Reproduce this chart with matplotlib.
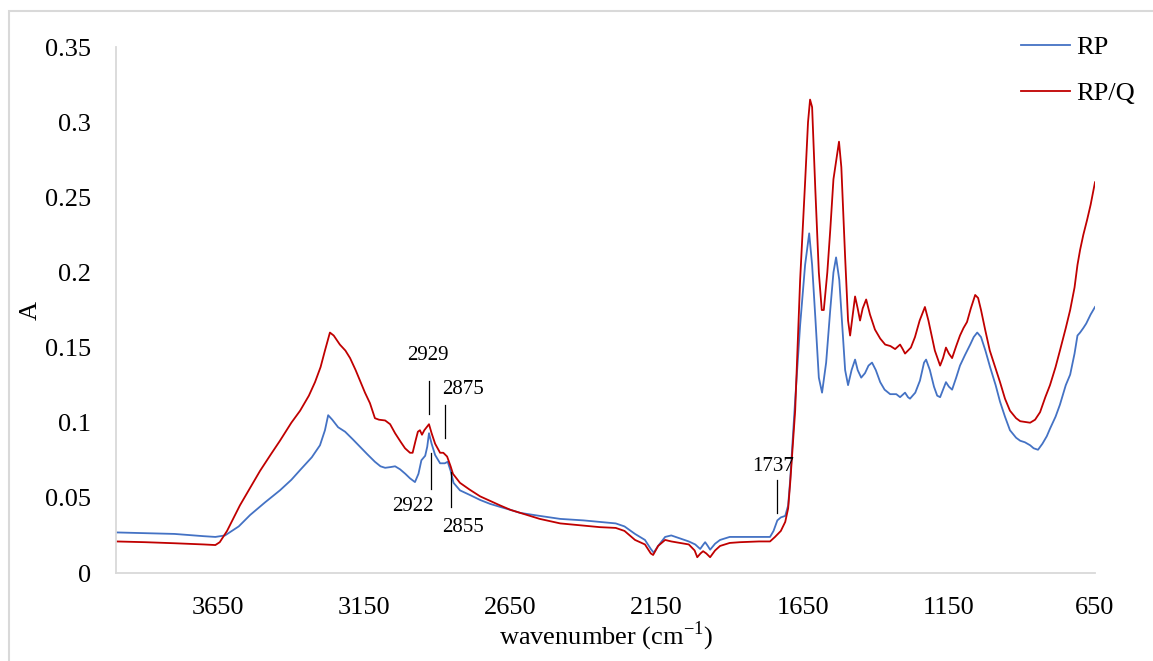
import matplotlib
matplotlib.use("Agg")
import matplotlib.pyplot as plt
from matplotlib.patches import Rectangle

plt.rcParams['font.family'] = ['Liberation Serif', 'DejaVu Serif']
plt.rcParams['mathtext.fontset'] = 'custom'
plt.rcParams['mathtext.rm'] = 'Liberation Serif'

# ---- data ----
wn_rp = [4000, 3900, 3800, 3700, 3660, 3627, 3580, 3541, 3490, 3439, 3400, 3370, 3330, 3302, 3285, 3274,
         3260, 3240, 3216, 3190, 3165, 3140, 3114, 3095, 3079, 3060, 3045, 3028, 3010, 2994, 2977, 2965,
         2955, 2942, 2935, 2929, 2920, 2908, 2891, 2875, 2865, 2855, 2845, 2823, 2790, 2754, 2720, 2686,
         2650, 2617, 2550, 2480, 2400, 2344, 2290, 2260, 2224, 2190, 2170, 2160, 2145, 2121, 2100, 2070,
         2040, 2018, 2001, 1990, 1984, 1975, 1967, 1950, 1933, 1900, 1865, 1800, 1762, 1750, 1737, 1725,
         1710, 1700, 1693, 1676, 1659, 1642, 1628, 1618, 1607, 1595, 1584, 1570, 1556, 1545, 1536, 1525,
         1515, 1505, 1495, 1483, 1471, 1462, 1450, 1437, 1425, 1413, 1400, 1385, 1370, 1351, 1330, 1317,
         1300, 1290, 1283, 1265, 1249, 1235, 1228, 1215, 1201, 1190, 1180, 1170, 1160, 1150, 1139, 1125,
         1112, 1095, 1077, 1065, 1053, 1040, 1025, 1009, 990, 975, 958, 941, 920, 906, 890, 872,
         860, 845, 830, 815, 804, 785, 770, 750, 735, 720, 710, 701, 690, 680, 665, 650]
a_rp = [0.027, 0.0265, 0.026, 0.0245, 0.024, 0.025, 0.031, 0.0386, 0.047, 0.055, 0.062, 0.0685, 0.077, 0.085, 0.095, 0.105,
        0.102, 0.097, 0.094, 0.089, 0.084, 0.079, 0.074, 0.071, 0.070, 0.0705, 0.071, 0.069, 0.066, 0.063, 0.0605, 0.066,
        0.075, 0.078, 0.084, 0.093, 0.086, 0.0785, 0.073, 0.073, 0.074, 0.068, 0.060, 0.055, 0.052, 0.0486, 0.046, 0.044,
        0.042, 0.040, 0.038, 0.036, 0.035, 0.034, 0.033, 0.031, 0.026, 0.022, 0.016, 0.0135, 0.018, 0.024, 0.025, 0.023,
        0.021, 0.019, 0.016, 0.019, 0.0205, 0.018, 0.0155, 0.0195, 0.022, 0.024, 0.024, 0.024, 0.024, 0.028, 0.035, 0.037,
        0.038, 0.045, 0.062, 0.115, 0.165, 0.205, 0.226, 0.205, 0.17, 0.13, 0.12, 0.14, 0.175, 0.2, 0.21, 0.195,
        0.165, 0.135, 0.125, 0.135, 0.142, 0.135, 0.130, 0.133, 0.138, 0.140, 0.135, 0.127, 0.122, 0.119, 0.119, 0.117,
        0.12, 0.117, 0.116, 0.120, 0.128, 0.14, 0.142, 0.135, 0.124, 0.118, 0.117, 0.122, 0.127, 0.124, 0.122, 0.13,
        0.138, 0.145, 0.152, 0.157, 0.16, 0.157, 0.148, 0.137, 0.125, 0.114, 0.104, 0.095, 0.09, 0.088, 0.087, 0.085,
        0.083, 0.082, 0.086, 0.091, 0.096, 0.104, 0.112, 0.125, 0.132, 0.146, 0.158, 0.160, 0.163, 0.166, 0.172, 0.177]

wn_rpq = [4000, 3900, 3800, 3700, 3660, 3645, 3620, 3576, 3540, 3507, 3470, 3439, 3400, 3370, 3340, 3319,
          3300, 3285, 3268, 3255, 3234, 3215, 3199, 3180, 3165, 3148, 3131, 3114, 3100, 3079, 3062, 3045,
          3025, 3011, 2994, 2985, 2975, 2967, 2960, 2953, 2945, 2933, 2929, 2920, 2908, 2891, 2880, 2867,
          2855, 2847, 2823, 2790, 2754, 2720, 2686, 2650, 2617, 2550, 2480, 2400, 2344, 2290, 2260, 2224,
          2190, 2170, 2162, 2145, 2121, 2100, 2070, 2040, 2020, 2011, 2000, 1991, 1980, 1967, 1950, 1933,
          1900, 1865, 1800, 1762, 1745, 1725, 1710, 1700, 1693, 1676, 1659, 1642, 1632, 1625, 1618, 1607,
          1595, 1585, 1578, 1566, 1556, 1545, 1535, 1526, 1518, 1505, 1495, 1488, 1480, 1471, 1462, 1454,
          1445, 1433, 1420, 1403, 1385, 1368, 1350, 1334, 1317, 1308, 1300, 1280, 1266, 1250, 1232, 1220,
          1198, 1180, 1170, 1160, 1150, 1139, 1125, 1112, 1100, 1088, 1075, 1060, 1050, 1040, 1026, 1010,
          990, 975, 958, 941, 920, 906, 872, 855, 838, 820, 804, 785, 770, 750, 735, 720,
          710, 701, 690, 677, 665, 650]
a_rpq = [0.021, 0.0205, 0.0198, 0.019, 0.0186, 0.0205, 0.028, 0.045, 0.057, 0.068, 0.079, 0.088, 0.100, 0.108, 0.118, 0.127,
         0.137, 0.148, 0.16, 0.158, 0.152, 0.148, 0.143, 0.135, 0.128, 0.120, 0.113, 0.103, 0.102, 0.1015, 0.099, 0.093,
         0.087, 0.083, 0.080, 0.080, 0.088, 0.094, 0.095, 0.092, 0.095, 0.098, 0.099, 0.093, 0.086, 0.080, 0.080, 0.0775,
         0.071, 0.066, 0.060, 0.0555, 0.051, 0.048, 0.045, 0.042, 0.040, 0.036, 0.033, 0.0315, 0.0305, 0.030, 0.028, 0.022,
         0.019, 0.013, 0.012, 0.018, 0.022, 0.021, 0.020, 0.019, 0.015, 0.0105, 0.013, 0.0145, 0.013, 0.0105, 0.015, 0.018,
         0.020, 0.0205, 0.021, 0.021, 0.024, 0.028, 0.034, 0.043, 0.060, 0.108, 0.195, 0.26, 0.30, 0.315, 0.31, 0.255,
         0.20, 0.175, 0.175, 0.20, 0.228, 0.262, 0.275, 0.287, 0.27, 0.21, 0.168, 0.158, 0.17, 0.184, 0.176, 0.168,
         0.176, 0.182, 0.172, 0.162, 0.156, 0.152, 0.151, 0.149, 0.152, 0.149, 0.146, 0.150, 0.157, 0.168, 0.177, 0.168,
         0.148, 0.138, 0.143, 0.150, 0.146, 0.143, 0.151, 0.158, 0.163, 0.167, 0.176, 0.185, 0.183, 0.175, 0.162, 0.148,
         0.136, 0.127, 0.116, 0.108, 0.103, 0.101, 0.100, 0.102, 0.107, 0.117, 0.125, 0.137, 0.148, 0.163, 0.175, 0.19,
         0.205, 0.215, 0.225, 0.235, 0.245, 0.26]

series_names = ["RP", "RP/Q"]
x_ticks = [3650, 3150, 2650, 2150, 1650, 1150, 650]
y_ticks = [0, 0.05, 0.1, 0.15, 0.2, 0.25, 0.3, 0.35]
y_tick_labels = ["0", "0.05", "0.1", "0.15", "0.2", "0.25", "0.3", "0.35"]

# annotations: label, wavenumber of marker line, line (y0, y1), text position (x, y)
annot_labels = ["2929", "2922", "2875", "2855", "1737"]
annot_wn = [2929, 2922, 2875, 2855, 1737]
annot_line_y = [(0.106, 0.128), (0.056, 0.080), (0.090, 0.112), (0.044, 0.067), (0.040, 0.062)]
annot_text_xy = [(2932, 0.145), (2985, 0.044), (2812, 0.122), (2812, 0.030), (1750, 0.071)]

# ---- figure ----
fig = plt.figure(figsize=(11.53, 6.61), dpi=100)
ax = fig.add_axes([116 / 1153, 1 - 573 / 661, (1095 - 116) / 1153, (573 - 47) / 661])

ax.plot(wn_rp, a_rp, color="#4472C4", lw=1.3, label=series_names[0])
ax.plot(wn_rpq, a_rpq, color="#C00000", lw=1.3, label=series_names[1])

ax.set_xlim(4000, 650)
ax.set_ylim(0, 0.35)
ax.set_xticks(x_ticks)
ax.set_xticklabels([str(t) for t in x_ticks])
ax.set_yticks(y_ticks)
ax.set_yticklabels(y_tick_labels)
ax.tick_params(axis="both", length=0, labelsize=19, colors="black")
ax.tick_params(axis="x", pad=17)
ax.tick_params(axis="y", pad=18)

for s in ["top", "right"]:
    ax.spines[s].set_visible(False)
for s in ["left", "bottom"]:
    ax.spines[s].set_color("#d9d9d9")
    ax.spines[s].set_linewidth(1.3)

ax.set_xlabel(r"wavenumber (cm$^{\mathregular{-1}}$)", fontsize=19, va="center")
ax.xaxis.set_label_coords((606 - 116) / 979, -(636 - 573) / 526)
ax.set_ylabel("A", fontsize=19, va="center")
ax.yaxis.set_label_coords(-(116 - 31) / 979, (573 - 310) / 526)

for lab, w, (y0, y1), (tx, ty) in zip(annot_labels, annot_wn, annot_line_y, annot_text_xy):
    ax.plot([w, w], [y0, y1], color="black", lw=0.9)
    ax.text(tx, ty, lab, fontsize=15, ha="center", va="center")

leg = ax.legend(loc="upper right", bbox_to_anchor=(1.052, 1.042), frameon=False, fontsize=19,
                handlelength=1.85, handletextpad=0.25, labelspacing=0.85, borderaxespad=0)

# outer chart border
fig.patches.append(Rectangle((9 / 1153, -0.05), 1.2, 1 - 11 / 661 + 0.05, transform=fig.transFigure,
                             fill=False, edgecolor="#d9d9d9", lw=1.5))

fig.savefig("out.png", dpi=100)
